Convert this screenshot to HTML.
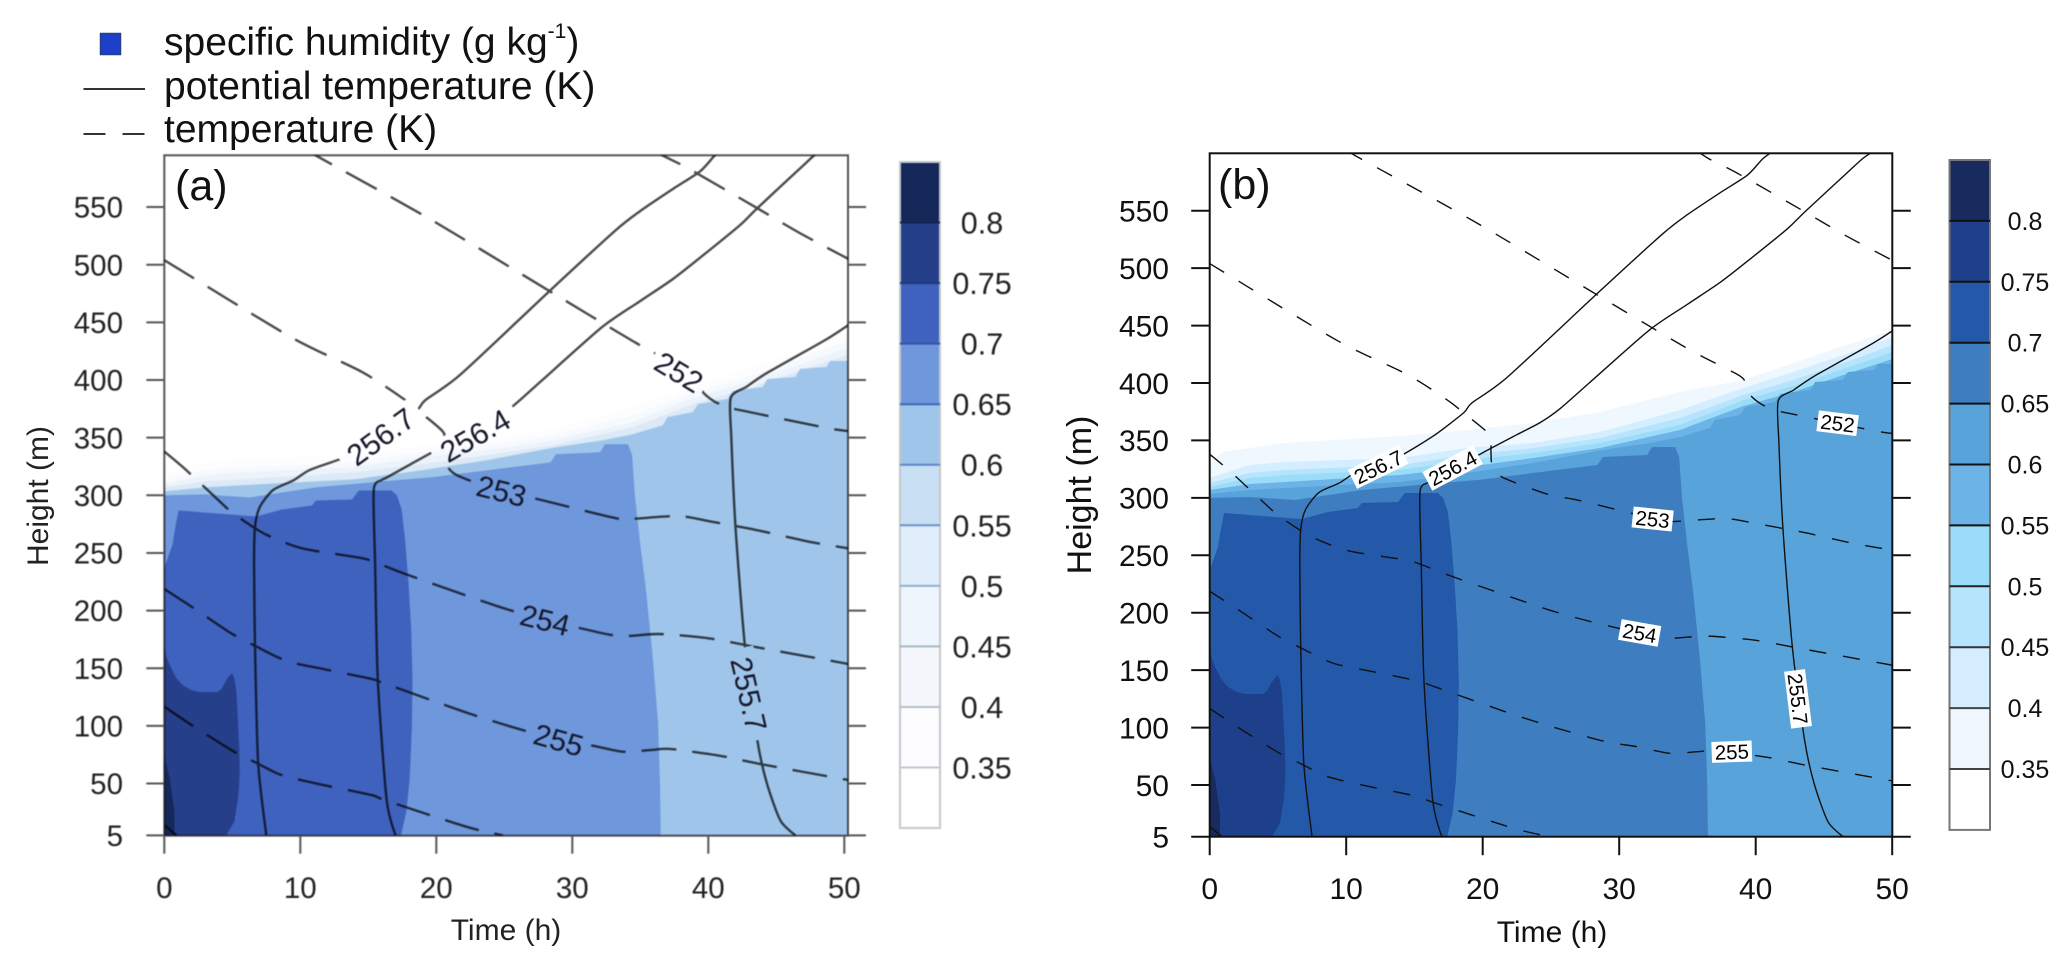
<!DOCTYPE html>
<html lang="en">
<head>
<meta charset="utf-8">
<title>Specific humidity, potential temperature and temperature time-height sections</title>
<style>
html,body{margin:0;padding:0;background:#fff;}
svg{display:block;}
text{font-family:"Liberation Sans",Arial,sans-serif;}
#panel-a{filter:blur(0.4px);}
</style>
</head>
<body>
<svg id="chart" xmlns="http://www.w3.org/2000/svg" width="2067" height="968" viewBox="0 0 2067 968">
  <rect x="0" y="0" width="2067" height="968" fill="#ffffff"/>
  <g>
    <rect x="100.5" y="33.5" width="20" height="21" fill="#1e40c8" stroke="#24408c" stroke-width="1.5"/>
    <text x="164" y="55" font-size="39" fill="#111">specific humidity (g kg<tspan dy="-17" font-size="21">-1</tspan><tspan dy="17">)</tspan></text>
    <line x1="83.5" y1="89" x2="145" y2="89" stroke="#333" stroke-width="2"/>
    <text x="164" y="99" font-size="39" fill="#111">potential temperature (K)</text>
    <line x1="83.5" y1="134" x2="145" y2="134" stroke="#333" stroke-width="2" stroke-dasharray="22 17"/>
    <text x="164" y="142" font-size="39" fill="#111">temperature (K)</text>
  </g>
  <g id="panel-a"></g>
  <g id="panel-b"></g>
  <text x="175" y="200" font-size="43" fill="#111">(a)</text>
  <text x="1218" y="199" font-size="43" fill="#111">(b)</text>
  <text x="506" y="940" font-size="30" text-anchor="middle" fill="#222">Time (h)</text>
  <text x="1552" y="942" font-size="30" text-anchor="middle" fill="#111">Time (h)</text>
  <text transform="translate(48,496) rotate(-90)" font-size="30" text-anchor="middle" fill="#222">Height (m)</text>
  <text transform="translate(1091,495) rotate(-90)" font-size="34" text-anchor="middle" fill="#111">Height (m)</text>
</svg>
<script>
// ---- axis tick values ----
var xTickValues = [0, 10, 20, 30, 40, 50];
var yTickValues = [5, 50, 100, 150, 200, 250, 300, 350, 400, 450, 500, 550];
var colorbarLabels = ['0.8', '0.75', '0.7', '0.65', '0.6', '0.55', '0.5', '0.45', '0.4', '0.35'];

// ---- specific humidity regions: [time h, height m] ----
var humidity035 = [[0,326],[0.4,335],[1,340],[2.95,343.4],[5.5,347.8],[13.95,353.9],[18.85,359.1],[23.7,365.2],[28.6,374.8],[34.45,392.2],[39.1,402.6],[42.75,417.4],[46.2,431.3],[50.3,447],[50.3,5],[0,5]];
var humidity040 = [[0,317.3],[2.95,328.6],[5.5,331.2],[13.95,334.7],[18.85,343.4],[23.7,347.8],[28.6,357.3],[34.45,376.5],[39.1,395.6],[42.75,409.6],[46.2,423.5],[50.3,441],[50.3,5],[0,5]];
var humidity045 = [[0,312.9],[2.95,321.6],[5.5,324.3],[13.95,328.6],[18.85,337.3],[23.7,343.4],[28.6,352.1],[34.45,369.5],[39.1,389.6],[42.75,402.6],[46.2,416.5],[50.3,434],[50.3,5],[0,5]];
var humidity050 = [[0,309.5],[2.95,317.3],[5.5,319.9],[13.95,324.3],[18.85,333],[23.7,339.1],[28.6,347.8],[34.45,363.4],[39.1,385.2],[42.75,397.4],[46.2,411.3],[50.3,428],[50.3,5],[0,5]];
var humidity055 = [[0,306.9],[2.95,312.1],[5.5,313.8],[13.95,319.9],[18.85,326.9],[23.7,334.7],[28.6,343.4],[34.45,359.1],[39.1,380],[42.75,392.2],[46.2,406.1],[50.3,422],[50.3,5],[0,5]];
var humidity060 = [[0,303.4],[2.95,306.9],[5.5,308.6],[13.95,313.8],[18.85,321.6],[23.7,330.4],[25.65,334.7],[28.8,341.7],[32.25,347.8],[34.45,353],[36.65,360.8],[37,367.8],[38.85,372.1],[39.25,379.1],[41.4,383.5],[41.8,390.4],[44,393.9],[44.35,400.9],[46.4,402.6],[46.75,409.6],[48.7,411.3],[48.95,416.5],[50.3,416.5],[50.3,5],[0,5]];
var humidity065 = [[0,299.9],[2.95,300.8],[6.25,298.1],[11.15,306.9],[16.9,312.9],[19.65,315.6],[23.7,321.6],[28.4,328.6],[28.8,335.6],[32.05,337.3],[32.4,344.3],[34.1,344.3],[34.4,335],[34.6,300],[35,257.2],[35.4,219.8],[35.9,161.5],[36.3,104],[36.45,50],[36.5,5],[0,5]];
var humidity070 = [[1.05,286.8],[6.75,281.6],[8.65,287.7],[10.85,291.2],[11.15,295.5],[13.8,296.4],[14.3,304.2],[16.7,304.2],[17.1,300],[17.45,288],[17.7,262],[17.95,225],[18.15,185],[18.25,140],[18.2,97.9],[18.05,55],[17.8,25.7],[17.4,5],[0,5],[0,237.2],[0.3,247],[0.6,257.2],[0.85,275]];
var humidity075 = [[0,170.2],[0.15,160],[0.4,152.8],[0.85,142],[1.35,135.4],[2,131],[2.6,129.3],[3.9,129.3],[4.2,132],[4.45,137.5],[4.75,143],[5,145.8],[5.15,141],[5.3,130.1],[5.4,108],[5.5,83.1],[5.55,60],[5.45,39.6],[5.15,17],[4.55,5],[0,5]];
var humidity080 = [[0,74.4],[0.4,54.4],[0.75,25.7],[0.75,5],[0,5]];

// ---- potential temperature contours: [time h, height m] ----
var theta2557 = [[46.4,5],[45.3,18],[44.3,50.5],[43.6,87.8],[42.7,168.4],[42,272.5],[41.7,348],[41.65,384.4],[42.8,394],[44.3,406],[48.6,434.7],[50.3,447.7]];
var theta2564 = [[17,5],[16.35,35.7],[15.7,139.8],[15.5,241],[15.4,304.6],[16,313.3],[16.45,316],[20,339.3],[22.5,355],[24.2,365.5],[25.7,378],[27.8,400],[32.2,446],[35,468.5],[37.4,487.6],[39.6,508],[42.3,534],[43.6,549],[46.7,583],[47.8,595],[48.4,600],[48.6,602]];
var theta2567 = [[7.5,5],[6.9,68],[6.67,168.7],[6.6,241],[6.67,272.8],[7.03,290],[8,304.6],[9.5,313],[10.7,322],[12.85,331],[14.05,337],[16.4,354],[18.6,374],[19.2,382.6],[21.8,405],[28.4,478],[33.2,530],[35,546.6],[37.4,565.7],[39.4,581],[40.5,595],[41.3,602]];

// ---- temperature contours: [time h, height m] ----
var temp251 = [[35.7,602],[36.6,595],[38.6,583],[43.6,549],[46.7,527.6],[50.3,505]];
var temp252 = [[10.1,602],[11.1,595],[19.4,540.5],[28.4,476.6],[35,430],[38.1,411],[39.1,403.6],[39.6,389.6],[40.5,381],[41.65,375.7],[42.7,373],[48.7,358.4],[50.3,355.7]];
var temp253 = [[0,504],[9.25,437.6],[14.5,407.2],[17.5,384.4],[18.6,374],[20.5,355],[20.6,342],[20.7,328],[21.5,317.6],[24.8,303],[27.1,297.7],[32.85,281],[34.2,279.5],[37.8,282],[40.3,277],[43.5,270],[47.3,260],[50.3,254]];
var temp254 = [[0,338],[1.6,322],[4.5,290],[5.4,281.5],[7.3,267],[9.3,257],[10.7,252.6],[14.5,245.6],[15.7,241],[17.9,231],[24.6,203.4],[28,192],[30.5,185],[32.8,179],[34.2,178],[36.4,179.7],[40,176],[43.5,168.4],[50.3,153.7]];
var temp255 = [[0,218.7],[2,203.4],[5,179.7],[6.8,168.7],[8.25,160],[9.4,154.8],[11.7,149.3],[15.25,140.7],[16.1,137.2],[22.1,112],[25.5,99.3],[29,87.8],[31.3,83.4],[33.7,77.6],[35.7,79],[37.2,80],[40.9,74],[43.8,67],[50.3,53]];
var temp256 = [[0,116.7],[2,100.8],[5,78.5],[6.8,67.8],[8.25,59],[9.4,54.8],[11.7,48.7],[15.25,40],[16.35,35],[22.2,12.6],[24.9,5]];
var temp257 = [[0,14],[0.9,5]];

// ---- contour labels: [text, time h, height m] ----
var labelTextA = [['252',37.85,407],['253',24.8,304],['254',28,192],['255',29,88],['255.7',43,127.5],['256.7',15.9,351],['256.4',22.85,352]];
var labelTextB = [['252',46,365],['253',32.45,281.6],['254',31.5,182.4],['255',38.25,79],['255.7',43.1,125],['256.7',12.35,327],['256.4',17.8,326]];
var labelAngleA = [31, 14, 14, 16, 77, -36, -30];
var labelAngleB = [7, 6, 10, -2, 83, -26, -28];

var NS = 'http://www.w3.org/2000/svg';
var regionSeries = [humidity035, humidity040, humidity045, humidity050, humidity055, humidity060, humidity065, humidity070, humidity075, humidity080];
var regionNames = ['035', '040', '045', '050', '055', '060', '065', '070', '075', '080'];
var thetaSeries = [theta2557, theta2564, theta2567];
var thetaNames = ['255-7', '256-4', '256-7'];
var tempSeries = [temp251, temp252, temp253, temp254, temp255, temp256, temp257];
var tempNames = ['251', '252', '253', '254', '255', '256', '257'];

var panels = [
  {
    id: 'a', x0: 164.3, xPerHour: 13.6, yAt400: 380, yPerMetre: 1.153, right: 848, top: 155.3, bottom: 835.7,
    regionColors: ['#ffffff', '#fdfdff', '#f6f9fd', '#edf3fb', '#dce9f7', '#9fc6ea', '#6e97dc', '#4062bf', '#253f8a', '#16285a'],
    barColors: ['#16285a', '#253f8a', '#4062bf', '#6e97dc', '#9fc6ea', '#c8dff4', '#e0edfb', '#eff5fd', '#f5f7fd', '#fdfdff', '#ffffff'],
    barEdges: ['#14234e', '#1c3a7c', '#35549f', '#3e66b5', '#5d85c6', '#6b93c6', '#8faecb', '#a5b7c4', '#b5bdc5', '#c5c5c5'],
    barX: 900, barW: 40, barTop: 162, barStep: 60.55, barLabelX: 982, barFont: 30.5, barFrame: '#c4c8cc',
    axisColor: '#555', tickColor: '#555', textColor: '#222', tickFont: 29.5, yLabelX: 123, xLabelY: 898, tickLen: 18,
    lineColor: '#4a4a4a', lineWidth: 2.4, dash: '35 16', blend: 'multiply', labelFont: 30, labelColor: '#16182a',
    labels: labelTextA, angles: labelAngleA, boxed: false
  },
  {
    id: 'b', x0: 1209.7, xPerHour: 13.65, yAt400: 383, yPerMetre: 1.1487, right: 1892.3, top: 153.3, bottom: 836.7,
    regionColors: ['#eff7ff', '#d4eeff', '#b6e4fc', '#9bdcf8', '#6cb3e8', '#58a3d9', '#3e7ec0', '#2359a8', '#1e3f8a', '#182a5e'],
    barColors: ['#182a5e', '#1e3f8a', '#2359a8', '#3e7ec0', '#58a3d9', '#6cb3e8', '#9bdcf8', '#b6e4fc', '#d4eeff', '#eff7ff', '#ffffff'],
    barEdges: ['#111', '#111', '#111', '#111', '#111', '#111', '#222', '#333', '#444', '#444'],
    barX: 1949.5, barW: 40.5, barTop: 160, barStep: 60.9, barLabelX: 2025, barFont: 25, barFrame: '#777',
    axisColor: '#111', tickColor: '#111', textColor: '#111', tickFont: 30, yLabelX: 1169, xLabelY: 899, tickLen: 18.5,
    lineColor: '#111', lineWidth: 1.4, dash: '17 17', blend: 'normal', labelFont: 20.5, labelColor: '#000',
    labels: labelTextB, angles: labelAngleB, boxed: true
  }
];

function xScale(p, h) { return p.x0 + h * p.xPerHour; }
function yScale(p, v) { return p.yAt400 + (400 - v) * p.yPerMetre; }
function toPath(p, pts, close) {
  var d = '';
  for (var i = 0; i < pts.length; i++) {
    d += (i ? 'L' : 'M') + xScale(p, pts[i][0]).toFixed(2) + ' ' + yScale(p, pts[i][1]).toFixed(2);
  }
  return close ? d + 'Z' : d;
}
function toSmoothPath(p, pts) {
  var px = pts.map(function (q) { return [xScale(p, q[0]), yScale(p, q[1])]; });
  var d = 'M' + px[0][0].toFixed(2) + ' ' + px[0][1].toFixed(2);
  for (var i = 0; i < px.length - 1; i++) {
    var a = px[Math.max(i - 1, 0)], b = px[i], c = px[i + 1], e = px[Math.min(i + 2, px.length - 1)];
    var c1x = b[0] + (c[0] - a[0]) / 8, c1y = b[1] + (c[1] - a[1]) / 8;
    var c2x = c[0] - (e[0] - b[0]) / 8, c2y = c[1] - (e[1] - b[1]) / 8;
    d += 'C' + c1x.toFixed(2) + ' ' + c1y.toFixed(2) + ' ' + c2x.toFixed(2) + ' ' + c2y.toFixed(2) + ' ' + c[0].toFixed(2) + ' ' + c[1].toFixed(2);
  }
  return d;
}
function make(tag, parent, props) {
  var el = document.createElementNS(NS, tag);
  for (var k in props) { el.setAttribute(k, props[k]); }
  parent.appendChild(el);
  return el;
}

panels.forEach(function (p) {
  var root = document.getElementById('panel-' + p.id);
  var defs = make('defs', root, {});
  var clip = make('clipPath', defs, { id: 'clip-' + p.id });
  make('rect', clip, { x: p.x0, y: p.top, width: p.right - p.x0, height: p.bottom - p.top });

  // label cut-outs so contour lines break around their labels
  var mask = make('mask', defs, { id: 'mask-' + p.id, maskUnits: 'userSpaceOnUse', x: 0, y: 0, width: 2067, height: 968 });
  make('rect', mask, { x: 0, y: 0, width: 2067, height: 968, fill: '#fff' });
  if (!p.boxed) {
    p.labels.forEach(function (l, i) {
      var w = l[0].length * p.labelFont * 0.556 + 10;
      var cx = xScale(p, l[1]);
      var cy = yScale(p, l[2]);
      make('rect', mask, { x: cx - w / 2, y: cy - 15, width: w, height: 30, fill: '#000', transform: 'rotate(' + p.angles[i] + ' ' + cx + ' ' + cy + ')' });
    });
  }

  // filled humidity regions
  var fills = make('g', root, { 'clip-path': 'url(#clip-' + p.id + ')' });
  
  
  regionSeries.forEach(function (series, i) {
    var region = make('path', fills, { d: toPath(p, series, true), fill: p.regionColors[i] });
    
    
  });

  // contour lines
  var lines = make('g', root, { fill: 'none', stroke: p.lineColor, 'stroke-width': p.lineWidth, 'stroke-linejoin': 'round', 'clip-path': 'url(#clip-' + p.id + ')', style: 'mix-blend-mode:' + p.blend });
  
  
  var masked = make('g', lines, { mask: 'url(#mask-' + p.id + ')' });
  tempSeries.forEach(function (series, i) {
    var line = make('path', masked, { d: toSmoothPath(p, series), 'stroke-dasharray': p.dash });
    
    
  });
  thetaSeries.forEach(function (series, i) {
    var line = make('path', masked, { d: toSmoothPath(p, series) });
    
    
  });

  // contour labels
  p.labels.forEach(function (l, i) {
    var cx = xScale(p, l[1]);
    var cy = yScale(p, l[2]);
    var g = make('g', root, { transform: 'translate(' + cx.toFixed(2) + ',' + cy.toFixed(2) + ') rotate(' + p.angles[i] + ')' });
    
    
    var box = null;
    if (p.boxed) {
      box = make('rect', g, { x: 0, y: -10.5, width: 0, height: 21, fill: '#fff' });
    }
    var t = make('text', g, { x: 0, y: p.labelFont * 0.36, 'font-size': p.labelFont, 'text-anchor': 'middle', fill: p.labelColor });
    t.textContent = l[0];
    if (box) {
      var w = t.getComputedTextLength() + 6;
      box.setAttribute('x', -w / 2);
      box.setAttribute('width', w);
    }
  });

  // frame and ticks
  var axes = make('g', root, { style: 'mix-blend-mode:' + p.blend });
  
  
  make('rect', axes, { x: p.x0, y: p.top, width: p.right - p.x0, height: p.bottom - p.top, fill: 'none', stroke: p.axisColor, 'stroke-width': 2 });

  xTickValues.forEach(function (h) {
    var x = xScale(p, h);
    var tick = make('line', axes, { x1: x, x2: x, y1: p.bottom, y2: p.bottom + p.tickLen, stroke: p.tickColor, 'stroke-width': 2 });
    
    
    var label = make('text', root, { x: x, y: p.xLabelY, 'font-size': p.tickFont, 'text-anchor': 'middle', fill: p.textColor });
    
    
    label.textContent = h;
  });
  yTickValues.forEach(function (v) {
    var y = yScale(p, v);
    var tickL = make('line', axes, { x1: p.x0 - p.tickLen, x2: p.x0, y1: y, y2: y, stroke: p.tickColor, 'stroke-width': 2 });
    
    
    var tickR = make('line', axes, { x1: p.right, x2: p.right + p.tickLen, y1: y, y2: y, stroke: p.tickColor, 'stroke-width': 2 });
    
    
    var label = make('text', root, { x: p.yLabelX, y: y + p.tickFont * 0.36, 'font-size': p.tickFont, 'text-anchor': 'end', fill: p.textColor });
    
    
    label.textContent = v;
  });

  // colour bar
  var bar = make('g', root, {});
  
  
  p.barColors.forEach(function (c, i) {
    var box = make('rect', bar, { x: p.barX, y: p.barTop + i * p.barStep, width: p.barW, height: p.barStep + 0.5, fill: c });
    
    
  });
  make('rect', bar, { x: p.barX, y: p.barTop, width: p.barW, height: 11 * p.barStep, fill: 'none', stroke: p.barFrame, 'stroke-width': 2 });
  colorbarLabels.forEach(function (txt, i) {
    var y = p.barTop + (i + 1) * p.barStep;
    make('line', bar, { x1: p.barX, x2: p.barX + p.barW, y1: y, y2: y, stroke: p.barEdges[i], 'stroke-width': 2 });
    var label = make('text', bar, { x: p.barLabelX, y: y + p.barFont * 0.36, 'font-size': p.barFont, 'text-anchor': 'middle', fill: p.textColor });
    
    
    label.textContent = txt;
  });
});
</script>
</body>
</html>
